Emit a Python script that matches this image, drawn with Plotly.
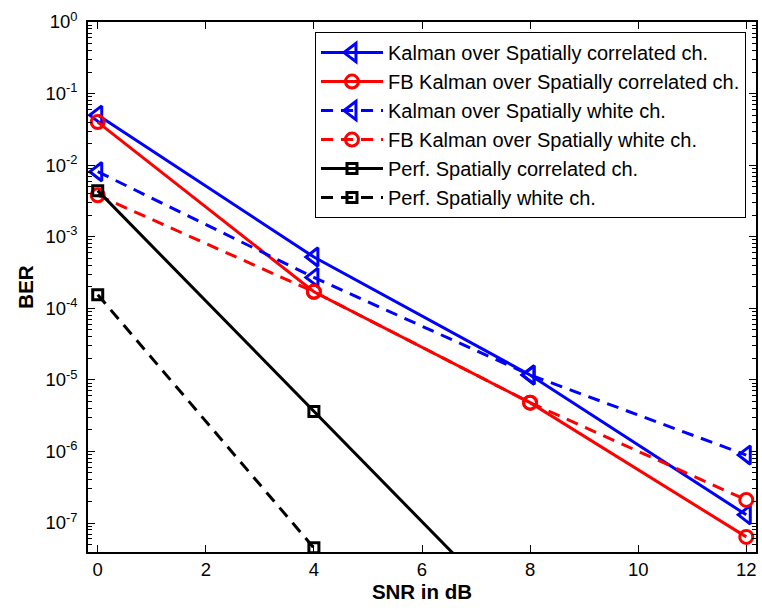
import plotly.graph_objects as go

# ---- data ----
snr = [0, 4, 8, 12]
kalman_corr = [5.0e-2, 5.2e-4, 1.17e-5, 1.3e-7]
fb_kalman_corr = [4.0e-2, 1.7e-4, 4.8e-6, 6.4e-8]
kalman_white = [8.1e-3, 2.7e-4, 1.17e-5, 8.9e-7]
fb_kalman_white = [3.8e-3, 1.7e-4, 4.8e-6, 2.1e-7]
perf_corr = [4.4e-3, 3.6e-6, 3.0e-9, 2.5e-12]
perf_white = [1.55e-4, 4.5e-8, 1.3e-11, 4.0e-15]

names = [
    "Kalman over Spatially correlated ch.",
    "FB Kalman over Spatially correlated ch.",
    "Kalman over Spatially white ch.",
    "FB Kalman over Spatially white ch.",
    "Perf. Spatially correlated ch.",
    "Perf. Spatially white ch.",
]

x_ticks = [0, 2, 4, 6, 8, 10, 12]
y_exponents = [0, -1, -2, -3, -4, -5, -6, -7]
y_tickvals = [10.0 ** e for e in y_exponents]
y_ticktext = ["10<sup>%d</sup>" % e for e in y_exponents]
minor_vals = [m * 10.0 ** k for k in range(-8, 0) for m in range(2, 10)]

FONT = "Liberation Sans, Arial, Helvetica, sans-serif"
DASH = "12px,8px"

series = [
    (kalman_corr, "blue", "solid", "triangle-left-open", 16),
    (fb_kalman_corr, "red", "solid", "circle-open", 13),
    (kalman_white, "blue", DASH, "triangle-left-open", 16),
    (fb_kalman_white, "red", DASH, "circle-open", 13),
    (perf_corr, "black", "solid", "square-open", 10),
    (perf_white, "black", DASH, "square-open", 10),
]

fig = go.Figure()
for (vals, col, dash, sym, sz), nm in zip(series, names):
    fig.add_trace(go.Scatter(
        x=snr, y=vals, name=nm, mode="lines+markers",
        line=dict(color=col, width=3, dash=dash),
        marker=dict(symbol=sym, size=sz, color=col,
                    line=dict(color=col, width=3)),
    ))

fig.update_layout(
    width=762, height=610,
    margin=dict(l=88, r=4, t=22, b=58),
    paper_bgcolor="white", plot_bgcolor="white",
    font=dict(family=FONT, size=18.5, color="black"),
    showlegend=True,
    legend=dict(
        x=0.985, y=0.981, xanchor="right", yanchor="top",
        bgcolor="white", bordercolor="black", borderwidth=1,
        font=dict(family=FONT, size=20, color="black"),
        itemwidth=62, tracegroupgap=0,
    ),
)

fig.update_xaxes(
    range=[-0.18, 12.18], tickvals=x_ticks,
    showline=True, linecolor="black", linewidth=1.5, mirror="ticks",
    ticks="inside", ticklen=7, tickcolor="black", tickwidth=1,
    showgrid=False, zeroline=False,
    tickfont=dict(family=FONT, size=18.5),
    title=dict(text="<b>SNR in dB</b>", standoff=0,
               font=dict(family=FONT, size=20.5)),
)
fig.update_yaxes(
    type="log", range=[-7.405, 0],
    tickvals=y_tickvals, ticktext=y_ticktext,
    showline=True, linecolor="black", linewidth=1.5, mirror="ticks",
    ticks="inside", ticklen=7, tickcolor="black", tickwidth=1,
    minor=dict(tickvals=minor_vals, ticks="inside", ticklen=4,
               tickcolor="black", showgrid=False),
    showgrid=False, zeroline=False,
    ticklabelstandoff=5,
    tickfont=dict(family=FONT, size=18.5),
    title=dict(text="<b>BER</b>", standoff=6,
               font=dict(family=FONT, size=20.5)),
)

fig.write_html("out.html")
